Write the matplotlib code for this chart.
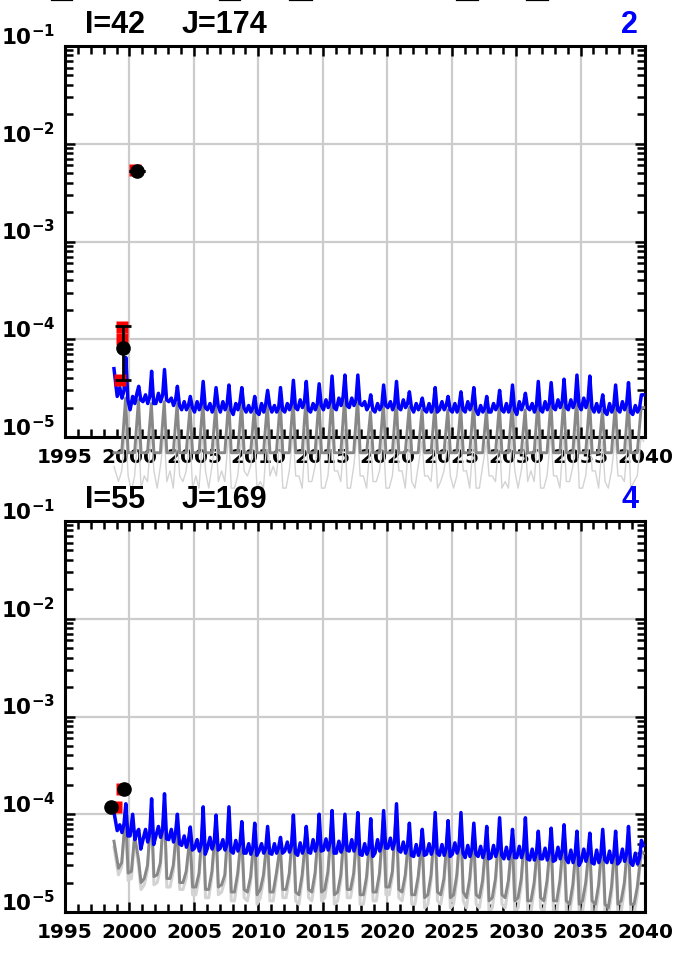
import numpy as np
import matplotlib
matplotlib.use('Agg')
import matplotlib.pyplot as plt
from matplotlib.lines import Line2D
from matplotlib.ticker import LogLocator, MultipleLocator, NullFormatter, FixedLocator, FuncFormatter
import matplotlib.transforms as mtransforms

# ---- time grids: a first sample, then several samples per year
t_start = 1998.8
years = np.arange(1999, 2040)
offsets_blue = [0.05, 0.25, 0.42, 0.58, 0.72, 0.88]
offsets_gray = [0.15, 0.4, 0.7, 0.9]

# ---- panel 2 (I=42 J=174), values in units of 1e-5
blue_top_start = 5.0
blue_top = [
    [2.6, 3.2, 2.5, 3.0, 6.5, 2.4], [1.9, 2.6, 2.2, 2.8, 3.3, 2.4], [2.3, 2.7, 2.2, 2.6, 4.7, 2.2],
    [2.2, 2.8, 2.3, 2.7, 4.9, 2.4], [2.3, 2.5, 2.1, 2.4, 3.3, 2.1], [1.9, 2.3, 1.9, 2.1, 2.6, 2.0],
    [1.8, 2.3, 1.9, 2.2, 3.7, 2.0], [1.9, 2.2, 1.8, 2.1, 3.2, 2.1], [1.8, 2.3, 1.9, 2.2, 3.4, 1.9],
    [1.7, 2.2, 1.9, 2.3, 3.2, 2.0], [1.8, 2.1, 1.8, 2.0, 2.6, 1.8], [1.7, 2.2, 1.8, 2.2, 3.0, 2.1],
    [1.8, 2.1, 1.8, 2.0, 3.2, 1.9], [1.8, 2.2, 1.9, 2.2, 3.8, 2.0], [1.9, 2.4, 2.0, 2.3, 3.7, 1.9],
    [1.8, 2.2, 1.9, 2.2, 3.5, 2.1], [1.9, 2.4, 2.0, 2.3, 4.2, 2.0], [1.9, 2.5, 2.1, 2.6, 4.3, 2.1],
    [2.0, 2.5, 2.1, 2.4, 4.3, 2.2], [2.1, 2.3, 1.9, 2.1, 2.7, 1.9], [1.8, 2.2, 1.9, 2.1, 3.4, 2.1],
    [2.0, 2.3, 1.9, 2.2, 3.7, 2.0], [1.9, 2.4, 2.0, 2.2, 2.9, 2.0], [1.8, 2.2, 1.9, 2.1, 2.5, 1.9],
    [1.8, 2.2, 1.8, 2.1, 3.2, 1.8], [1.9, 2.3, 1.9, 2.1, 2.6, 1.9], [1.8, 2.2, 1.8, 2.1, 2.9, 1.9],
    [1.8, 2.3, 1.9, 2.2, 3.2, 1.9], [1.7, 2.1, 1.8, 2.0, 2.6, 1.8], [1.8, 2.2, 1.9, 2.1, 3.0, 1.9],
    [1.8, 2.2, 1.8, 2.1, 3.4, 1.9], [1.7, 2.3, 1.9, 2.2, 2.8, 2.0], [1.9, 2.2, 1.8, 2.1, 3.7, 1.9],
    [1.8, 2.3, 1.9, 2.2, 3.6, 2.0], [1.9, 2.4, 2.0, 2.3, 3.9, 2.0], [1.9, 2.4, 2.0, 2.3, 4.3, 2.1],
    [1.9, 2.5, 2.0, 2.4, 4.2, 2.0], [1.8, 2.2, 1.8, 2.1, 2.7, 1.8], [1.7, 2.2, 1.8, 2.1, 3.4, 1.9],
    [1.8, 2.3, 1.9, 2.2, 3.6, 1.8], [1.7, 2.1, 1.8, 2.0, 2.7, 2.7],
]
gray_top_start = 0.69
gray_top = [
    [0.69, 0.69, 2.5, 0.69], [0.69, 0.69, 2.4, 0.69], [0.69, 0.69, 2.2, 0.69], [0.69, 0.69, 2.3, 0.69],
    [0.69, 0.69, 2.2, 0.69], [0.69, 0.69, 2.0, 0.69], [0.69, 0.69, 2.3, 0.69], [0.69, 0.69, 2.1, 0.69],
    [0.69, 0.69, 2.4, 0.69], [0.69, 0.69, 2.2, 0.69], [0.69, 0.69, 2.0, 0.69], [0.69, 0.69, 2.2, 0.69],
    [0.69, 0.69, 2.3, 0.69], [0.69, 0.69, 2.4, 0.69], [0.69, 0.69, 2.5, 0.69], [0.69, 0.69, 2.4, 0.69],
    [0.69, 0.69, 2.5, 0.69], [0.69, 0.69, 2.6, 0.69], [0.69, 0.69, 2.5, 0.69], [0.69, 0.69, 1.8, 0.69],
    [0.69, 0.69, 2.2, 0.69], [0.69, 0.69, 2.4, 0.69], [0.69, 0.69, 2.0, 0.69], [0.69, 0.69, 1.9, 0.69],
    [0.69, 0.69, 2.1, 0.69], [0.69, 0.69, 1.9, 0.69], [0.69, 0.69, 2.0, 0.69], [0.69, 0.69, 2.2, 0.69],
    [0.69, 0.69, 1.9, 0.69], [0.69, 0.69, 2.1, 0.69], [0.69, 0.69, 2.2, 0.69], [0.69, 0.69, 1.9, 0.69],
    [0.69, 0.69, 2.4, 0.69], [0.69, 0.69, 2.3, 0.69], [0.69, 0.69, 2.4, 0.69], [0.69, 0.69, 2.5, 0.69],
    [0.69, 0.69, 2.4, 0.69], [0.69, 0.69, 1.9, 0.69], [0.69, 0.69, 2.2, 0.69], [0.69, 0.69, 2.3, 0.69],
    [0.69, 0.69, 2.0, 2.0],
]
lgray_top_start = 0.5
lgray_top = [
    [0.35, 0.45, 1.2, 0.4], [0.28, 0.4, 1.2, 0.3], [0.4, 0.35, 1.1, 0.45], [0.3, 0.5, 1.1, 0.35],
    [0.45, 0.3, 1.0, 0.4], [0.35, 0.45, 1.0, 0.3], [0.4, 0.3, 1.1, 0.45], [0.3, 0.5, 1.0, 0.35],
    [0.45, 0.35, 1.1, 0.3], [0.3, 0.4, 1.0, 0.45], [0.4, 0.5, 1.0, 0.3], [0.35, 0.3, 1.1, 0.4],
    [0.5, 0.4, 1.0, 0.3], [0.3, 0.45, 1.1, 0.4], [0.4, 0.3, 1.2, 0.35], [0.35, 0.5, 1.1, 0.3],
    [0.3, 0.4, 1.2, 0.45], [0.45, 0.35, 1.2, 0.3], [0.3, 0.5, 1.2, 0.4], [0.4, 0.3, 0.9, 0.35],
    [0.35, 0.45, 1.0, 0.3], [0.3, 0.4, 1.1, 0.45], [0.45, 0.3, 1.0, 0.35], [0.3, 0.5, 0.9, 0.4],
    [0.4, 0.35, 1.0, 0.3], [0.35, 0.45, 0.9, 0.4], [0.3, 0.4, 1.0, 0.45], [0.45, 0.3, 1.0, 0.3],
    [0.3, 0.5, 0.9, 0.4], [0.4, 0.35, 1.0, 0.3], [0.35, 0.3, 1.0, 0.45], [0.3, 0.45, 0.9, 0.35],
    [0.45, 0.35, 1.1, 0.3], [0.3, 0.4, 1.1, 0.4], [0.4, 0.3, 1.1, 0.35], [0.35, 0.5, 1.2, 0.3],
    [0.3, 0.4, 1.1, 0.45], [0.45, 0.3, 0.9, 0.35], [0.3, 0.45, 1.0, 0.4], [0.4, 0.35, 1.1, 0.3],
    [0.35, 0.4, 1.0, 0.9],
]
# observations panel 2
red_top_x = [2000.42, 1999.4, 1999.4, 1999.25]
red_top_y = [5.4e-3, 1.35e-4, 1.0e-4, 3.8e-5]
obs_top_x = [2000.55, 1999.5]
obs_top_y = [5.3e-3, 8.2e-5]
obs_top_lo = [5.3e-3, 3.8e-5]
obs_top_hi = [5.3e-3, 1.37e-4]

# ---- panel 4 (I=55 J=169), values in units of 1e-5
blue_bot_start = 10.5
blue_bot = [
    [6.8, 7.8, 6.5, 8.0, 12.8, 6.0], [6.0, 10.0, 5.5, 6.5, 7.0, 4.4], [5.5, 7.0, 5.2, 6.5, 14.4, 4.9],
    [6.0, 7.5, 5.8, 7.0, 16.2, 5.6], [5.5, 7.0, 5.2, 6.5, 10.0, 5.0], [4.8, 6.0, 4.6, 5.5, 7.4, 4.3],
    [4.5, 5.5, 4.2, 5.0, 11.9, 3.9], [4.5, 5.8, 4.4, 5.2, 9.8, 4.3], [4.5, 5.5, 4.3, 5.0, 11.9, 4.2],
    [4.0, 5.4, 4.2, 5.0, 8.4, 4.0], [4.0, 5.0, 3.9, 4.6, 8.1, 3.8], [4.2, 5.0, 4.0, 4.5, 7.5, 4.0],
    [3.9, 5.0, 4.0, 4.6, 5.8, 4.0], [4.2, 5.2, 4.1, 4.8, 9.8, 4.0], [3.8, 5.1, 4.0, 4.7, 7.5, 4.1],
    [4.0, 5.5, 4.2, 5.0, 10.0, 4.2], [4.3, 5.6, 4.3, 5.2, 10.9, 4.0], [4.0, 5.3, 4.1, 4.8, 10.0, 4.3],
    [4.2, 5.5, 4.2, 5.0, 10.4, 3.9], [3.8, 5.0, 3.9, 4.5, 9.0, 3.7], [4.0, 5.5, 4.2, 5.0, 10.9, 4.5],
    [4.5, 5.7, 4.4, 5.2, 12.8, 4.3], [4.1, 5.2, 4.0, 4.8, 8.1, 3.8], [3.7, 4.9, 3.8, 4.5, 7.0, 3.8],
    [3.9, 5.0, 3.9, 4.6, 10.4, 4.0], [3.8, 4.9, 3.8, 4.5, 8.6, 3.7], [3.9, 5.1, 4.0, 4.7, 10.4, 4.0],
    [3.6, 4.8, 3.7, 4.4, 8.1, 3.9], [3.7, 4.7, 3.6, 4.3, 7.5, 3.5], [3.6, 4.8, 3.7, 4.4, 9.2, 3.8],
    [3.5, 4.6, 3.5, 4.2, 7.0, 3.6], [3.6, 4.7, 3.6, 4.3, 9.2, 3.5], [3.4, 4.4, 3.4, 4.0, 6.7, 3.5],
    [3.5, 4.5, 3.4, 4.1, 7.2, 3.3], [3.4, 4.6, 3.5, 4.2, 7.8, 3.5], [3.2, 4.3, 3.2, 3.9, 6.7, 3.0],
    [3.3, 4.4, 3.3, 4.0, 6.4, 3.2], [3.1, 4.3, 3.2, 3.9, 7.0, 3.4], [3.2, 4.2, 3.2, 3.8, 6.7, 3.1],
    [3.3, 4.4, 3.3, 4.0, 7.5, 3.2], [3.0, 4.0, 3.1, 3.6, 5.4, 4.8],
]
gray_bot_start = 5.3
gray_bot = [
    [2.8, 3.2, 10.0, 2.5], [2.6, 6.0, 3.5, 2.0], [2.2, 3.0, 11.0, 2.3], [2.4, 3.2, 12.5, 2.2],
    [2.2, 3.0, 8.0, 2.0], [2.0, 2.6, 6.0, 1.8], [1.8, 2.5, 9.0, 1.7], [1.7, 2.6, 8.0, 1.8],
    [1.9, 2.4, 9.5, 1.6], [1.6, 2.5, 6.5, 1.7], [1.6, 2.3, 6.5, 1.5], [1.7, 2.4, 6.0, 1.6],
    [1.6, 2.5, 4.8, 1.7], [1.7, 2.5, 7.8, 1.6], [1.5, 2.4, 6.2, 1.7], [1.6, 2.5, 8.0, 1.6],
    [1.7, 2.6, 8.8, 1.5], [1.6, 2.4, 8.0, 1.7], [1.7, 2.5, 8.5, 1.5], [1.5, 2.3, 7.2, 1.6],
    [1.6, 2.5, 9.0, 1.8], [1.8, 2.6, 11.0, 1.7], [1.6, 2.4, 6.5, 1.5], [1.5, 2.3, 5.8, 1.4],
    [1.5, 2.4, 8.5, 1.6], [1.5, 2.2, 7.0, 1.4], [1.5, 2.4, 8.5, 1.6], [1.4, 2.2, 6.5, 1.5],
    [1.4, 2.1, 6.0, 1.3], [1.4, 2.2, 7.5, 1.5], [1.4, 2.1, 5.8, 1.3], [1.4, 2.2, 7.5, 1.3],
    [1.3, 2.0, 5.5, 1.4], [1.3, 2.1, 6.0, 1.3], [1.3, 2.1, 6.3, 1.3], [1.2, 1.9, 5.5, 1.2],
    [1.3, 2.0, 5.2, 1.3], [1.2, 1.9, 5.8, 1.2], [1.1, 1.8, 5.5, 1.2], [1.3, 2.0, 6.0, 1.2],
    [1.2, 1.8, 4.2, 4.0],
]
lgray_bot_start = 4.6
lgray_bot = [
    [2.4, 2.9, 9.5, 2.1], [2.2, 5.5, 3.0, 1.7], [1.9, 2.7, 10.5, 1.9], [2.0, 2.8, 12.0, 1.8],
    [1.8, 2.6, 7.5, 1.7], [1.7, 2.2, 5.6, 1.5], [1.5, 2.2, 8.5, 1.4], [1.4, 2.3, 7.5, 1.5],
    [1.6, 2.1, 9.0, 1.3], [1.3, 2.2, 6.1, 1.4], [1.3, 2.0, 6.1, 1.2], [1.4, 2.1, 5.6, 1.3],
    [1.3, 2.2, 4.5, 1.4], [1.4, 2.2, 7.4, 1.3], [1.2, 2.1, 5.8, 1.4], [1.3, 2.2, 7.5, 1.3],
    [1.4, 2.3, 8.3, 1.2], [1.3, 2.1, 7.5, 1.4], [1.4, 2.2, 8.0, 1.2], [1.2, 2.0, 6.8, 1.3],
    [1.3, 2.2, 8.5, 1.5], [1.5, 2.3, 10.5, 1.4], [1.3, 2.1, 6.1, 1.2], [1.2, 2.0, 5.4, 1.1],
    [1.2, 2.1, 8.0, 1.3], [1.2, 1.9, 6.6, 1.1], [1.2, 2.1, 8.0, 1.3], [1.1, 1.9, 6.1, 1.2],
    [1.1, 1.8, 5.6, 1.0], [1.1, 1.9, 7.0, 1.2], [1.1, 1.8, 5.4, 1.0], [1.1, 1.9, 7.0, 1.0],
    [1.0, 1.7, 5.1, 1.1], [1.0, 1.8, 5.6, 1.0], [1.0, 1.8, 5.9, 1.0], [0.95, 1.6, 5.1, 0.95],
    [1.0, 1.7, 4.8, 1.0], [0.95, 1.6, 5.4, 0.95], [0.9, 1.5, 5.1, 0.95], [1.0, 1.7, 5.6, 0.95],
    [0.95, 1.5, 3.9, 3.6],
]
red_bot_x = [1999.4, 1998.95]
red_bot_y = [1.83e-4, 1.19e-4]
obs_bot_x = [1999.6, 1998.6]
obs_bot_y = [1.8e-4, 1.19e-4]

panels = [
    dict(title_i='I=42', title_j='J=174', num='2',
         blue=(blue_top_start, blue_top), gray=(gray_top_start, gray_top), lgray=(lgray_top_start, lgray_top),
         red_x=red_top_x, red_y=red_top_y, obs_x=obs_top_x, obs_y=obs_top_y,
         obs_lo=obs_top_lo, obs_hi=obs_top_hi, clip=False, top_px=47, lgray_lw=1.0),
    dict(title_i='I=55', title_j='J=169', num='4',
         blue=(blue_bot_start, blue_bot), gray=(gray_bot_start, gray_bot), lgray=(lgray_bot_start, lgray_bot),
         red_x=red_bot_x, red_y=red_bot_y, obs_x=obs_bot_x, obs_y=obs_bot_y,
         obs_lo=None, obs_hi=None, clip=True, top_px=522, lgray_lw=2.2),
]

W, H = 697, 954
fig = plt.figure(figsize=(W / 100, H / 100), dpi=100)
t_blue = np.concatenate([[t_start], (years[:, None] + np.array(offsets_blue)[None, :]).ravel()])
t_gray = np.concatenate([[t_start], (years[:, None] + np.array(offsets_gray)[None, :]).ravel()])


def series(pair):
    start, rows = pair
    return np.concatenate([[start], np.ravel(rows)]) * 1e-5


for p in panels:
    top = p['top_px']
    ax = fig.add_axes([65 / W, 1 - (top + 391) / H, 580 / W, 391 / H])
    ax.set_yscale('log')
    ax.set_xlim(1995, 2040)

    ax.plot(t_gray, series(p['lgray']), color='#d3d3d3', lw=p['lgray_lw'], zorder=2, clip_on=p['clip'])
    ax.plot(t_gray, series(p['gray']), color='#888888', lw=2.1, zorder=3, clip_on=p['clip'])
    ax.plot(t_blue, series(p['blue']), color='#0000ff', lw=2.5, zorder=4)

    ax.plot(p['red_x'], p['red_y'], 's', color='#ff0000', ms=8, mec='none', zorder=5)
    if p['obs_lo'] is not None:
        yerr = [np.array(p['obs_y']) - np.array(p['obs_lo']), np.array(p['obs_hi']) - np.array(p['obs_y'])]
        ax.errorbar(p['obs_x'], p['obs_y'], yerr=yerr, fmt='o', color='black', ms=9.5,
                    elinewidth=2, capsize=6, capthick=2, zorder=6)
    else:
        ax.plot(p['obs_x'], p['obs_y'], 'o', color='black', ms=9.5, zorder=6)

    # axes styling
    ax.xaxis.set_major_locator(MultipleLocator(5))
    ax.xaxis.set_minor_locator(MultipleLocator(1))
    ax.yaxis.set_major_locator(FixedLocator([1e-5, 1e-4, 1e-3, 1e-2, 1e-1]))
    ax.yaxis.set_minor_locator(LogLocator(base=10, subs=np.arange(2, 10), numticks=20))
    ax.yaxis.set_minor_formatter(NullFormatter())
    ax.yaxis.set_major_formatter(FuncFormatter(
        lambda v, pos: r'$\mathbf{10^{%d}}$' % int(round(np.log10(v)))))
    ax.set_ylim(1e-5, 1e-1)
    ax.grid(True, which='major', color='#cccccc', lw=1.6, zorder=0)
    ax.set_axisbelow(True)
    ax.tick_params(which='both', direction='in', top=True, right=True, width=1.8, colors='black')
    ax.tick_params(which='major', length=7)
    ax.tick_params(which='minor', length=6)
    ax.tick_params(axis='x', labelsize=14.5, pad=7)
    ax.tick_params(axis='y', labelsize=15.5, pad=7)
    for lab in ax.get_xticklabels():
        lab.set_fontweight('bold')
    off = mtransforms.ScaledTranslation(0, 9 / 72, fig.dpi_scale_trans)
    for lab in ax.get_yticklabels():
        lab.set_transform(lab.get_transform() + off)
    for s in ax.spines.values():
        s.set_linewidth(2.2)

    base = 1 - (top - 14) / H
    fig.text(85 / W, base, p['title_i'], fontsize=22, fontweight='bold', family='Liberation Sans',
             va='baseline', ha='left')
    fig.text(182 / W, base, p['title_j'], fontsize=22, fontweight='bold', family='Liberation Sans',
             va='baseline', ha='left')
    fig.text(638 / W, base, p['num'], fontsize=22, fontweight='bold', family='Liberation Sans',
             color='#0000ff', va='baseline', ha='right')

# remnants of labels from the panel above, cut at the top edge
for x0, x1 in [(52, 72), (220, 240), (290, 312), (457, 478), (527, 548)]:
    fig.add_artist(Line2D([x0 / W, x1 / W], [1 - 1.2 / H, 1 - 1.2 / H], color='black', lw=1.6))

fig.savefig('out.png', dpi=100)
